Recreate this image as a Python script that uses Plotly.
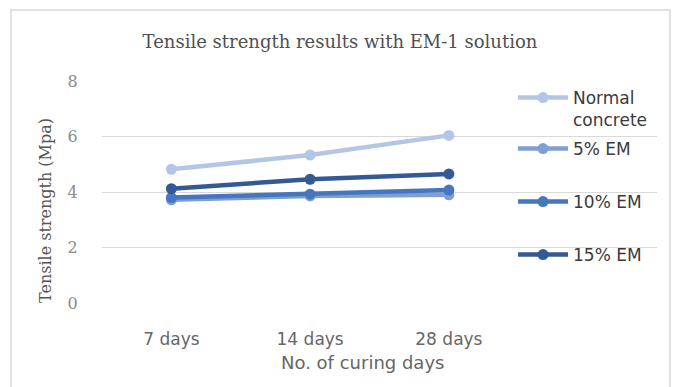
import plotly.graph_objects as go

# Curing ages (x categories) and tensile strength per mix (MPa)
curing_days = ["7 days", "14 days", "28 days"]
normal_concrete = [4.82, 5.33, 6.04]
em_5 = [3.72, 3.86, 3.90]
em_10 = [3.80, 3.92, 4.07]
em_15 = [4.12, 4.46, 4.65]

series_names = ["Normal<br>concrete", "5% EM", "10% EM", "15% EM"]
series_values = [normal_concrete, em_5, em_10, em_15]
series_colors = ["#B4C6E5", "#7F9ED3", "#4676BE", "#335A94"]
legend_ids = ["legend", "legend2", "legend3", "legend4"]
legend_y = [80, 149, 202, 255]  # legend row anchors, px from top

W, H = 675, 387
L, R, T, B = 102, 18, 81, 84
plot_h = H - T - B
plot_w = W - L - R

fig = go.Figure()
for name, vals, col, lg in zip(series_names, series_values, series_colors, legend_ids):
    fig.add_trace(go.Scatter(
        x=curing_days, y=vals, name=name, mode="lines+markers",
        line=dict(color=col, width=4.5),
        marker=dict(color=col, size=11),
        legend=lg,
    ))

def py(p):
    return (H - B - p) / plot_h

def px(p):
    return (p - L) / plot_w

legend_font = dict(family="DejaVu Sans", size=17, color="#3a3a3a")
legends = {}
for lg, yy in zip(legend_ids, legend_y):
    legends[lg] = dict(
        x=px(513), xanchor="left", y=py(yy),
        yanchor="top" if lg == "legend" else "middle",
        bgcolor="rgba(0,0,0,0)", font=legend_font, valign="top",
        itemwidth=50,
    )

fig.update_layout(
    width=W, height=H, autosize=False,
    margin=dict(l=L, r=R, t=T, b=B),
    paper_bgcolor="white", plot_bgcolor="white",
    showlegend=True,
    title=dict(
        text="Tensile strength results with EM-1 solution",
        font=dict(family="DejaVu Serif", size=18, color="#505050"),
        x=px(340), xref="paper", xanchor="center",
        y=1 - 42 / H, yref="container", yanchor="middle",
    ),
    xaxis=dict(
        type="category", categoryorder="array", categoryarray=curing_days,
        range=[-0.5, 3.5], showgrid=False, zeroline=False, showline=False,
        ticks="outside", ticklen=21, tickcolor="rgba(0,0,0,0)",
        tickfont=dict(family="DejaVu Sans", size=17, color="#666666"),
    ),
    yaxis=dict(
        range=[0, 8], dtick=2, showgrid=True, gridcolor="#d9d9d9", gridwidth=1.2,
        zeroline=False, showline=False,
        ticks="outside", ticklen=20, tickcolor="rgba(0,0,0,0)",
        tickfont=dict(family="DejaVu Serif", size=16, color="#8a8a8a"),
    ),
    annotations=[
        dict(text="Tensile strength (Mpa)", textangle=-90, showarrow=False,
             xref="paper", yref="paper", x=px(45), y=py(211),
             xanchor="center", yanchor="middle",
             font=dict(family="DejaVu Serif", size=16, color="#555555")),
        dict(text="No. of curing days", showarrow=False,
             xref="paper", yref="paper", x=px(362), y=py(362),
             xanchor="center", yanchor="middle",
             font=dict(family="DejaVu Sans", size=18, color="#666666")),
    ],
    shapes=[
        dict(type="rect", xref="paper", yref="paper",
             x0=px(11), x1=px(670), y0=py(395), y1=py(10),
             line=dict(color="#d9d9d9", width=1.5), layer="below"),
    ],
    **legends,
)

fig.write_html("out.html")
